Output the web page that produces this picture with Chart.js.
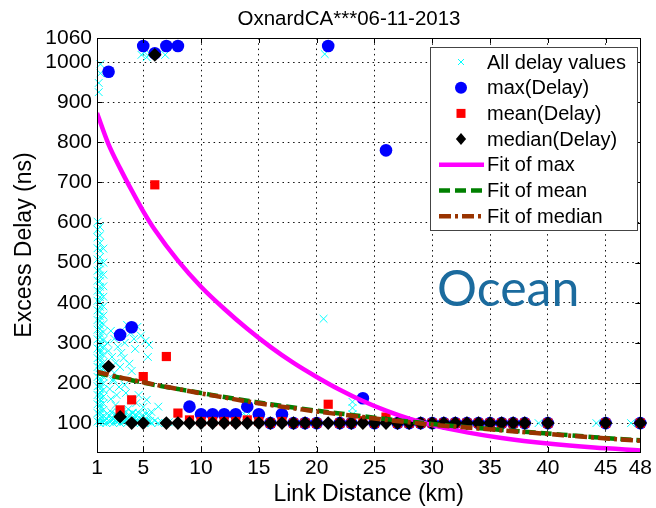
<!DOCTYPE html>
<html>
<head>
<meta charset="utf-8">
<script src="https://cdn.jsdelivr.net/npm/chart.js@4.4.1/dist/chart.umd.min.js"></script>
<style>
  html, body { margin: 0; padding: 0; background: #fff; }
  canvas { display: block; }
</style>
</head>
<body>
<canvas id="myChart" width="656" height="508"></canvas>
<script>
// tick positions
var xTicks = [1, 5, 10, 15, 20, 25, 30, 35, 40, 45, 48];
var yTicks = [100, 200, 300, 400, 500, 600, 700, 800, 900, 1000, 1060];

// every measured delay (link distance km, excess delay ns)
var allX = [
  1.25, 1.25, 1.25, 1.25, 1.25, 1.25, 1.25, 1.25, 1.25, 1.25, 1.25, 1.25, 1.25, 1.25, 1.25, 1.25,
  1.25, 1.25, 1.25, 1.25, 1.25, 1.25, 1.25, 1.25, 1.25, 1.25, 1.25, 1.25, 1.25, 1.25, 1.25, 1.25,
  1.25, 1.25, 1.25, 1.25, 1.25, 1.25, 1.25, 1.25, 1.25, 1.25, 1.25, 1.25, 1.25, 1.25,
  1.55, 1.55, 1.55, 1.55, 1.55, 1.55, 1.55, 1.55, 1.55, 1.55, 1.55, 1.55, 1.55, 1.55, 1.55, 1.55,
  1.55, 1.55, 1.55, 1.55, 1.55, 1.55,
  1.05, 1.05, 1.05, 1.05, 1.05, 1.05, 1.05, 1.05, 1.05, 1.05, 1.05, 1.05, 1.05, 1.05, 1.05, 1.05,
  1.05, 1.05, 1.05, 1.05, 1.05, 1.05,
  1.15, 1.15, 1.3, 1.3,
  1.8, 1.8, 2.1, 2.1, 2.4, 2.4, 2.7, 2.7, 3.0, 3.0, 3.3, 3.3, 3.6, 3.6, 3.9, 4.2, 4.2, 4.5, 4.8, 4.8,
  5.1, 5.4, 5.7, 6.0, 6.3, 6.6, 6.9, 7.2, 7.5,
  1.9, 2.25, 2.55, 2.85, 3.15, 3.45, 3.75, 4.05, 4.35, 4.65, 4.95, 5.25, 5.55,
  1.7, 2.0, 2.3, 2.6, 2.9, 3.2, 3.5, 3.8, 4.1, 4.4, 4.7, 5.0, 5.3, 5.6,
  2.2, 2.5, 2.8, 3.1, 3.4, 3.6, 3.9, 4.2, 4.5, 4.8, 5.2, 5.5, 2.3, 2.6, 3.0, 3.3, 3.8, 2.4, 2.9, 3.5,
  3.9, 4.4, 4.6, 5.0, 5.3, 5.7, 6.3, 2.2, 2.6, 3.2, 3.7, 4.1, 2.1, 2.5,
  1.9, 2.0, 2.4, 2.7, 3.4, 4.0, 4.3, 5.4,
  4.85, 5.1, 5.3, 5.6, 6.9,
  20.6, 20.7, 23.1, 23.1, 23.1, 13.9, 13.9, 39.2, 44.2, 47.2
];
var allY = [
  100, 106, 113, 121, 128, 136, 145, 152, 160, 169, 177, 186, 194, 203, 212, 221,
  229, 238, 247, 256, 266, 275, 284, 294, 303, 313, 323, 334, 344, 355, 366, 378,
  390, 402, 414, 427, 440, 454, 468, 483, 498, 514, 531, 549, 568, 589,
  102, 118, 133, 149, 166, 183, 199, 216, 234, 251, 270, 288, 307, 327, 347, 368,
  391, 415, 441, 470, 500, 535,
  104, 125, 147, 170, 192, 215, 240, 262, 286, 309, 333, 357, 381, 405, 430, 455,
  480, 508, 536, 563, 582, 602,
  925, 948, 972, 995,
  100, 112, 104, 118, 100, 110, 103, 120, 100, 109, 104, 116, 100, 111, 105, 100, 114, 102, 100, 110,
  100, 104, 100, 106, 100, 103, 100, 102, 100,
  124, 127, 122, 126, 123, 125, 121, 126, 122, 124, 120, 123, 119,
  107, 106, 108, 107, 106, 108, 107, 106, 107, 108, 106, 107, 106, 105,
  330, 310, 290, 275, 300, 345, 325, 310, 340, 318, 305, 295, 265, 250, 240, 262, 248, 210, 190, 175,
  160, 150, 170, 140, 158, 128, 141, 160, 145, 130, 135, 125, 185, 225,
  300, 280, 205, 170, 195, 230, 285, 265,
  1018, 1025, 1012, 1020, 1018,
  360, 1020, 153, 138, 122, 130, 118, 100, 100, 100
];

// per-distance statistics
var statX = [2, 3, 4, 5, 6, 7, 8, 9, 10, 11, 12, 13, 14, 15, 16, 17, 18, 19, 20, 21,
  22, 23, 24, 25, 26, 27, 28, 29, 30, 31, 32, 33, 34, 35, 36, 37, 38, 40, 45, 48];
var maxDelay = [976, 320, 339, 1040, 1022, 1040, 1040, 141, 122, 122, 122, 122, 141, 122, 100, 122, 100, 100, 100, 1040,
  100, 100, 162, 100, 780, 100, 100, 100, 100, 100, 100, 100, 100, 100, 100, 100, 100, 100, 100, 100];
var meanDelay = [null, 133, 158, 216, 694, 266, 125, 108, 104, 104, 104, 104, 108, 104, 100, 104, 100, 100, 100, 147,
  100, 100, 106, 100, 115, 100, 100, 100, 100, 100, 100, 100, 100, 100, 100, 100, 100, 100, 100, 100];
var medianDelay = [241, 116, 100, 100, 1018, 100, 100, 100, 100, 100, 100, 100, 100, 100, 100, 100, 100, 100, 100, 100,
  100, 100, 100, 100, 100, 100, 100, 100, 100, 100, 100, 100, 100, 100, 100, 100, 100, 100, 100, 100];

// fitted curves
var fitX = [1, 2, 3, 4, 5, 6, 8, 10, 12, 14, 16, 18, 20, 22, 24, 26, 28, 30, 33, 36, 40, 44, 48];
var fitMax = [873, 795, 735, 680, 628, 582, 505, 440, 385, 335, 290, 250, 215, 183, 155, 131, 111, 95, 77, 63, 49, 39, 32];
var fitMean = [225, 219, 213, 207, 201, 195, 185, 175, 165, 156, 147, 139, 131, 124, 117, 110, 104, 98, 90, 83, 74, 65, 57];
var fitMedian = [228, 221, 214, 208, 202, 196, 185, 174, 164, 154, 145, 137, 129, 122, 115, 108, 102, 96, 89, 82, 73, 64, 56];

function pts(xs, ys) {
  return xs.map(function (x, i) { return { x: x, y: ys[i] }; });
}

var FONT = '"Liberation Sans", Arial, Helvetica, sans-serif';

// box, inward ticks on all four sides
const framePlugin = {
  id: 'frame',
  afterDatasetsDraw(chart) {
    const ctx = chart.ctx;
    const a = chart.chartArea;
    const xs = chart.scales.x, ys = chart.scales.y;
    ctx.save();
    ctx.strokeStyle = '#000';
    ctx.lineWidth = 1;
    ctx.beginPath();
    xTicks.forEach(function (v) {
      const px = Math.round(xs.getPixelForValue(v)) + 0.5;
      ctx.moveTo(px, a.bottom); ctx.lineTo(px, a.bottom - 5);
      ctx.moveTo(px, a.top); ctx.lineTo(px, a.top + 5);
    });
    yTicks.forEach(function (v) {
      const py = Math.round(ys.getPixelForValue(v)) + 0.5;
      ctx.moveTo(a.left, py); ctx.lineTo(a.left + 5, py);
      ctx.moveTo(a.right, py); ctx.lineTo(a.right - 5, py);
    });
    ctx.stroke();
    ctx.strokeRect(Math.round(a.left) + 0.5, Math.round(a.top) + 0.5,
      Math.round(a.right - a.left), Math.round(a.bottom - a.top));
    ctx.restore();
  }
};

function marker(ctx, kind, x, y, r, color) {
  ctx.fillStyle = color;
  ctx.strokeStyle = color;
  ctx.beginPath();
  if (kind === 'circle') {
    ctx.arc(x, y, r, 0, Math.PI * 2);
    ctx.fill();
  } else if (kind === 'rect') {
    ctx.fillRect(x - r, y - r, 2 * r, 2 * r);
  } else if (kind === 'rectRot') {
    ctx.moveTo(x, y - r); ctx.lineTo(x + r * 0.85, y); ctx.lineTo(x, y + r); ctx.lineTo(x - r * 0.85, y);
    ctx.closePath();
    ctx.fill();
  } else if (kind === 'crossRot') {
    ctx.lineWidth = 1;
    ctx.moveTo(x - r, y - r); ctx.lineTo(x + r, y + r);
    ctx.moveTo(x + r, y - r); ctx.lineTo(x - r, y + r);
    ctx.stroke();
  }
}

// legend box, title and the "Ocean" tag
const annotatePlugin = {
  id: 'annotate',
  afterDraw(chart) {
    const ctx = chart.ctx;
    ctx.save();

    ctx.fillStyle = '#000';
    ctx.font = '20.5px ' + FONT;
    ctx.textAlign = 'center';
    ctx.textBaseline = 'middle';
    ctx.fillText('OxnardCA***06-11-2013', 349, 19);

    ctx.fillStyle = '#1b6b9e';
    ctx.font = '50px Lato, "Open Sans", sans-serif';
    ctx.textAlign = 'left';
    ctx.textBaseline = 'alphabetic';
    ctx.fillText('Ocean', 437, 306);

    const bx = 430, by = 47, bw = 207, bh = 183;
    ctx.fillStyle = '#fff';
    ctx.fillRect(bx, by, bw, bh);
    ctx.strokeStyle = '#444';
    ctx.lineWidth = 1;
    ctx.strokeRect(bx + 0.5, by + 0.5, bw, bh);

    const sizes = { crossRot: 3, circle: 6, rect: 4.5, rectRot: 6 };
    chart.data.datasets.forEach(function (ds, i) {
      const y = 62 + i * 25.7;
      if (ds.showLine) {
        ctx.save();
        ctx.strokeStyle = ds.borderColor;
        ctx.lineWidth = ds.borderWidth;
        ctx.setLineDash(ds.borderDash || []);
        ctx.beginPath();
        ctx.moveTo(439, y); ctx.lineTo(484, y);
        ctx.stroke();
        ctx.restore();
      } else {
        marker(ctx, ds.pointStyle, 461, y, sizes[ds.pointStyle], ds.backgroundColor);
      }
      ctx.fillStyle = '#000';
      ctx.font = '20px ' + FONT;
      ctx.textAlign = 'left';
      ctx.textBaseline = 'middle';
      ctx.fillText(ds.label, 487, y + 1);
    });
    ctx.restore();
  }
};

const data = {
  datasets: [
    {
      label: 'All delay values',
      data: pts(allX, allY),
      pointStyle: 'crossRot',
      pointRadius: 5.5,
      borderColor: '#00ffff',
      backgroundColor: '#00ffff',
      pointBorderWidth: 1,
      showLine: false,
      clip: false,
      order: 7
    },
    {
      label: 'max(Delay)',
      data: pts(statX, maxDelay),
      pointStyle: 'circle',
      pointRadius: 6.3,
      borderColor: '#0000ff',
      backgroundColor: '#0000ff',
      pointBorderWidth: 0,
      showLine: false,
      clip: false,
      order: 6
    },
    {
      label: 'mean(Delay)',
      data: pts(statX, meanDelay),
      pointStyle: 'rect',
      pointRadius: 6.5,
      borderColor: '#ff0000',
      backgroundColor: '#ff0000',
      pointBorderWidth: 0,
      showLine: false,
      clip: false,
      order: 5
    },
    {
      label: 'median(Delay)',
      data: pts(statX, medianDelay),
      pointStyle: 'rectRot',
      pointRadius: 6.8,
      borderColor: '#000000',
      backgroundColor: '#000000',
      pointBorderWidth: 0,
      showLine: false,
      clip: false,
      order: 4
    },
    {
      label: 'Fit of max',
      data: pts(fitX, fitMax),
      showLine: true,
      borderColor: '#ff00ff',
      borderWidth: 4.5,
      pointRadius: 0,
      cubicInterpolationMode: 'monotone',
      order: 3
    },
    {
      label: 'Fit of mean',
      data: pts(fitX, fitMean),
      showLine: true,
      borderColor: '#008000',
      borderWidth: 4.5,
      borderDash: [11, 5],
      pointRadius: 0,
      cubicInterpolationMode: 'monotone',
      order: 2
    },
    {
      label: 'Fit of median',
      data: pts(fitX, fitMedian),
      showLine: true,
      borderColor: '#993300',
      borderWidth: 4.5,
      borderDash: [12, 4, 3, 4],
      pointRadius: 0,
      cubicInterpolationMode: 'monotone',
      order: 1
    }
  ]
};

const config = {
  type: 'scatter',
  data,
  options: {
    responsive: false,
    animation: false,
    layout: { padding: { top: 38, right: 13, left: 0, bottom: 0 } },
    plugins: {
      legend: { display: false },
      title: { display: false },
      tooltip: { enabled: false }
    },
    scales: {
      x: {
        type: 'linear',
        min: 1,
        max: 48,
        afterBuildTicks: function (s) { s.ticks = xTicks.map(function (v) { return { value: v }; }); },
        afterFit: function (s) { s.height = 56; },
        ticks: {
          color: '#000', font: { family: FONT, size: 21 }, padding: 4, maxRotation: 0, autoSkip: false,
          callback: function (v) { return String(v); }
        },
        grid: { color: '#111', lineWidth: 1, drawTicks: false },
        border: { display: false, dash: [1.5, 3.8] },
        title: { display: true, text: 'Link Distance (km)', color: '#000', font: { family: FONT, size: 23 }, padding: { top: 0, bottom: 0 } }
      },
      y: {
        type: 'linear',
        min: 28,
        max: 1060,
        afterBuildTicks: function (s) { s.ticks = yTicks.map(function (v) { return { value: v }; }); },
        afterFit: function (s) { s.width = 97; },
        ticks: {
          color: '#000', font: { family: FONT, size: 21 }, padding: 5, autoSkip: false,
          callback: function (v) { return String(v); }
        },
        grid: { color: '#111', lineWidth: 1, drawTicks: false },
        border: { display: false, dash: [1.5, 3.8] },
        title: { display: true, text: 'Excess Delay (ns)', color: '#000', font: { family: FONT, size: 23 }, padding: { top: 11, bottom: 0 } }
      }
    }
  },
  plugins: [framePlugin, annotatePlugin]
};

const myChart = new Chart(document.getElementById('myChart'), config);
</script>
</body>
</html>
